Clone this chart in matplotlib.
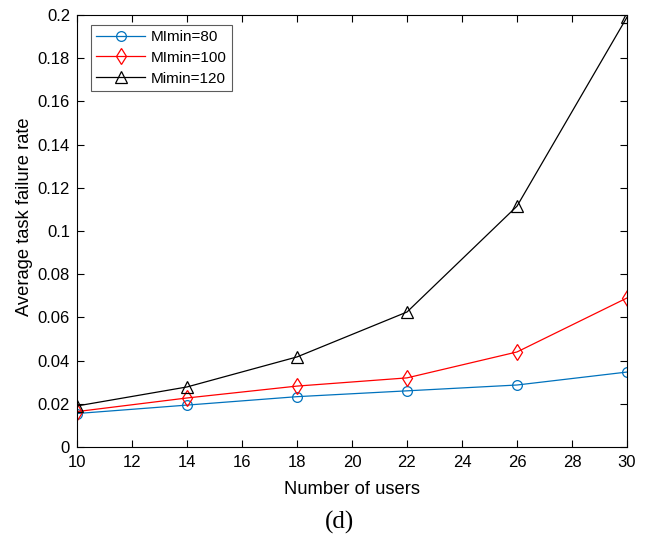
import matplotlib
matplotlib.use('Agg')
import matplotlib.pyplot as plt
import numpy as np

# number of users on the x axis
users = [10, 14, 18, 22, 26, 30]

# average task failure rate per MI threshold
fail_mi80 = [0.0155, 0.0194, 0.0233, 0.0260, 0.0287, 0.0347]
fail_mi100 = [0.0164, 0.0227, 0.0282, 0.0320, 0.0440, 0.0690]
fail_mi120 = [0.0190, 0.0278, 0.0417, 0.0625, 0.1115, 0.1990]

series_labels = ['MImin=80', 'MImin=100', 'Mimin=120']
x_ticks = [10, 12, 14, 16, 18, 20, 22, 24, 26, 28, 30]
y_ticks = [0, 0.02, 0.04, 0.06, 0.08, 0.1, 0.12, 0.14, 0.16, 0.18, 0.2]
y_tick_labels = ['0', '0.02', '0.04', '0.06', '0.08', '0.1', '0.12',
                 '0.14', '0.16', '0.18', '0.2']

plt.rcParams['font.family'] = ['Liberation Sans', 'DejaVu Sans']

fig = plt.figure(figsize=(6.46, 5.40), dpi=100)
# axes box in pixels: left 77, right 627, top 15, bottom 447
ax = fig.add_axes([77 / 646, 1 - 447 / 540, 550 / 646, 432 / 540])

ax.plot(users, fail_mi80, color='#0072BD', lw=0.9, marker='o', ms=7,
        mfc='none', mec='#0072BD', mew=0.9, label=series_labels[0])
ax.plot(users, fail_mi100, color='#FF0000', lw=0.9, marker='d', ms=8,
        mfc='none', mec='#FF0000', mew=0.9, label=series_labels[1])
ax.plot(users, fail_mi120, color='black', lw=0.9, marker='^', ms=8,
        mfc='none', mec='black', mew=0.9, label=series_labels[2])

ax.set_xlim(10, 30)
ax.set_ylim(0, 0.2)
ax.set_xticks(x_ticks)
ax.set_yticks(y_ticks)
ax.set_yticklabels(y_tick_labels)
ax.tick_params(direction='in', length=5, width=0.8, top=True, right=True,
               labelsize=12)
ax.tick_params(axis='y', pad=5)
ax.tick_params(axis='x', pad=6)
for sp in ax.spines.values():
    sp.set_linewidth(0.8)

ax.set_xlabel('Number of users', fontsize=13.2, va='center')
ax.xaxis.set_label_coords(0.5, (447 - 489) / 432)
ax.set_ylabel('Average task failure rate', fontsize=13.2, va='center')
ax.yaxis.set_label_coords((25 - 77) / 550, (447 - 217) / 432)

leg = ax.legend(loc='upper left', bbox_to_anchor=(0.025, 0.978), fontsize=11,
                frameon=True, fancybox=False, edgecolor='#333333',
                handlelength=3.2, handletextpad=0.4, borderpad=0.35,
                labelspacing=0.45, borderaxespad=0)
leg.get_frame().set_linewidth(0.8)

fig.text(340 / 646, 1 - 522 / 540, '(d)', ha='center', va='center',
         fontsize=18, family=['Liberation Serif', 'DejaVu Serif'])

fig.savefig('out.png', dpi=100)
